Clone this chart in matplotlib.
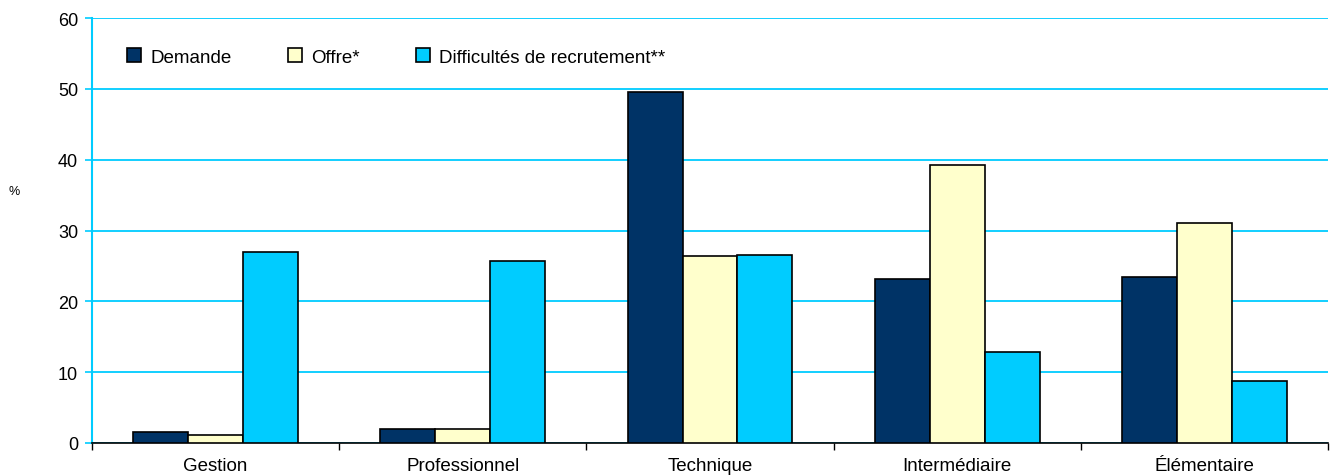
import matplotlib
matplotlib.use("Agg")
import matplotlib.pyplot as plt
import numpy as np

categories = ["Gestion", "Professionnel", "Technique", "Intermédiaire", "Élémentaire"]
demande = [1.5, 2.0, 49.5, 23.1, 23.5]
offre = [1.1, 2.0, 26.4, 39.3, 31.1]
difficultes = [26.9, 25.7, 26.6, 12.9, 8.7]
series_labels = ["Demande", "Offre*", "Difficultés de recrutement**"]
series_colors = ["#003366", "#FFFFCC", "#00CCFF"]
yticks = [0, 10, 20, 30, 40, 50, 60]

plt.rcParams['font.family'] = ['Liberation Sans', 'DejaVu Sans']

fig = plt.figure(figsize=(13.3, 4.77), dpi=100)
ax = fig.add_axes([92/1330, 33/477, (1328-92)/1330, (444-19)/477])

x = np.arange(len(categories))
w = 1/4.5
for i, (vals, lab, col) in enumerate(zip([demande, offre, difficultes], series_labels, series_colors)):
    ax.bar(x + (i-1)*w, vals, width=w, color=col, edgecolor="black", linewidth=1.2,
           label=lab, zorder=3)

ax.set_xlim(-0.5, len(categories)-0.5)
ax.set_ylim(0, 60)
ax.set_yticks(yticks)
ax.set_yticklabels([str(v) for v in yticks], fontsize=13)
ax.yaxis.grid(True, color="#00CCFF", linewidth=1.3, zorder=0)
ax.set_axisbelow(True)

ax.set_xticks(x)
ax.set_xticklabels(categories, fontsize=13.5)
ax.tick_params(axis='x', which='major', length=0, pad=10)
ax.set_xticks(np.arange(-0.5, len(categories), 1.0), minor=True)
ax.tick_params(axis='x', which='minor', length=5, width=1, color='black', direction='out')
ax.tick_params(axis='y', length=5, width=1.2, color='#00CCFF', pad=5)

for s in ['top', 'right']:
    ax.spines[s].set_visible(False)
ax.spines['left'].set_color('#00CCFF')
ax.spines['left'].set_linewidth(1.5)
ax.spines['bottom'].set_color('black')
ax.spines['bottom'].set_linewidth(1.2)

fig.text(14/1330, 1 - 192/477, "%", fontsize=9, ha='center', va='center')

leg = ax.legend(loc='center left', bbox_to_anchor=(0.028, 0.908), ncol=3, frameon=False,
                fontsize=13.5, handlelength=0.75, handleheight=0.75, handletextpad=0.5,
                columnspacing=3.0, borderaxespad=0, borderpad=0)

fig.savefig("out.png", dpi=100)
